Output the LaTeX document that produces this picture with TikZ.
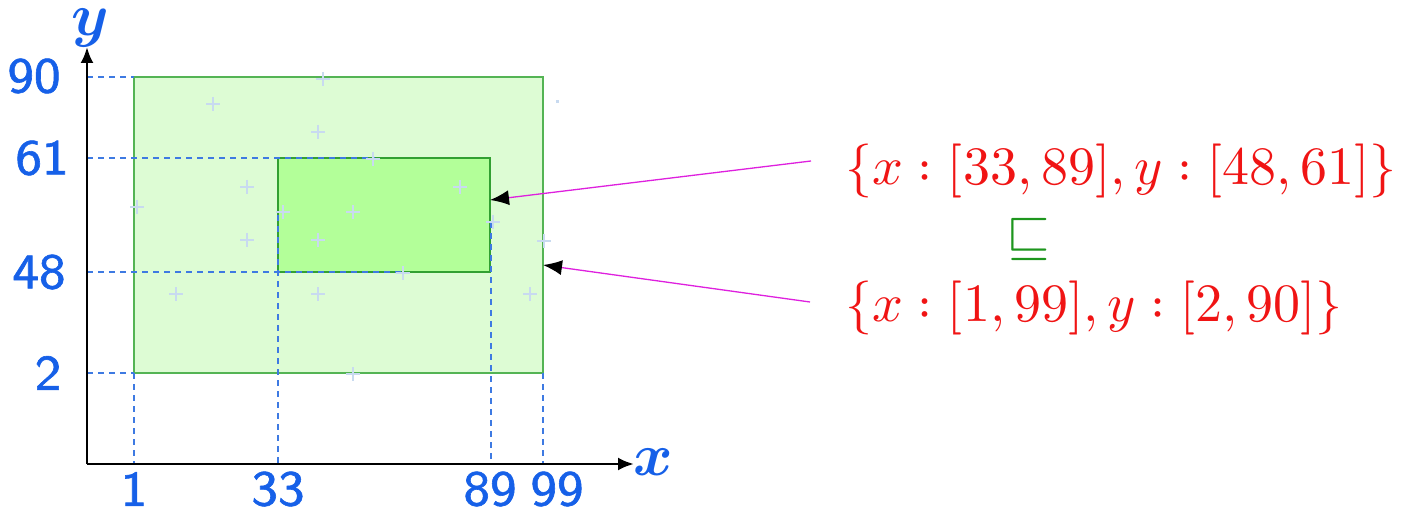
\documentclass[tikz,border=0pt]{standalone}
\usepackage{fontspec}
\usepackage{unicode-math}
\setmathfont{Latin Modern Math}
\newfontfamily\ticksans{lmsans8-regular.otf}[FakeBold=1.2]
\usetikzlibrary{arrows.meta}

\definecolor{tickblue}{RGB}{22,96,232}
\definecolor{guideblue}{RGB}{62,122,226}
\definecolor{outerfill}{RGB}{221,252,212}
\definecolor{outerline}{RGB}{84,180,84}
\definecolor{innerfill}{RGB}{179,255,153}
\definecolor{innerline}{RGB}{50,160,50}
\definecolor{crossblue}{RGB}{200,218,240}
\definecolor{ptrmagenta}{RGB}{222,32,222}
\definecolor{formred}{RGB}{240,20,20}
\definecolor{relgreen}{RGB}{30,150,30}

\begin{document}
\begin{tikzpicture}[x=1pt,y=-1pt,
  every node/.style={inner sep=0pt,outer sep=0pt},
  ticklbl/.style={font=\ticksans\fontsize{50}{50}\selectfont,text=tickblue},
  axislbl/.style={font=\fontsize{60}{60}\selectfont,text=tickblue},
  formula/.style={font=\fontsize{54}{54}\selectfont,text=formred},
  guide/.style={draw=guideblue,line width=1.3pt,dash pattern=on 6pt off 5pt},
  axisline/.style={line width=2.8pt,-{Latex[length=16pt,width=13pt]}},
  ptr/.style={draw=ptrmagenta,line width=1.3pt,-{Latex[length=19pt,width=15pt,color=black]}},
  crossmk/.style={draw=crossblue,line width=1.5pt},
  outerbox/.style={draw=outerline,fill=outerfill,line width=2pt,anchor=north west},
  innerbox/.style={draw=innerline,fill=innerfill,line width=2pt,anchor=north west}]
\useasboundingbox (0,0) rectangle (1414,513);

% the two intervals as boxes
\node[outerbox,minimum width=409pt,minimum height=296pt] (outer) at (134,77) {};
\node[innerbox,minimum width=212pt,minimum height=114pt] (inner) at (278,158) {};

% dashed projections onto the axes
\coordinate (O) at (87,464);
\coordinate (xend) at (634,464);
\coordinate (yend) at (87,47);
\draw[guide] (87,77) -- (outer.north west);
\draw[guide] (87,158) -- (375,158);
\draw[guide] (87,272) -- (405,272);
\draw[guide] (87,373) -- (outer.south west);
\draw[guide] (outer.south west) -- (134,464);
\draw[guide] (278,215) -- (278,464);
\draw[guide] (491,222) -- (491,464);
\draw[guide] (outer.south east) -- (543,464);

% sample points
\foreach \px/\py in {323/79,213/104,318/132,373/159,247/187,137/207,283/212,353/212,
  460/187,247/240,318/240,493/222,544/241,403/273,176/294,318/294,530/294,353/374}
  \draw[crossmk] (\px-7,\py) -- (\px+7,\py) (\px,\py-7) -- (\px,\py+7);
\fill[crossblue] (555.5,100.5) rectangle (558.5,103.5);

% axes
\draw[axisline] (O) -- (xend);
\draw[axisline] (O) -- (yend);
\node[axislbl] (xl) at (653,462) {$\symbfit{x}$};
\node[axislbl] (yl) at (90,28) {$\symbfit{y}$};

% tick labels
\node[ticklbl] (t90) at (34,76) {90};
\node[ticklbl] (t61) at (42,158) {61};
\node[ticklbl] (t48) at (39,272) {48};
\node[ticklbl] (t2) at (48,373) {2};
\node[ticklbl] (t1) at (134,489) {1};
\node[ticklbl] (t33) at (278,489) {33};
\node[ticklbl] (t89) at (490,489) {89};
\node[ticklbl] (t99) at (557,489) {99};

% interval descriptions
\node[formula,anchor=base west] (small) at (845,185) {$\{x:[33,89],y:[48,61]\}$};
\node[font=\fontsize{56}{56}\selectfont,text=relgreen] (rel) at (1029,240) {$\sqsubseteq$};
\node[formula,anchor=base west] (big) at (845,321) {$\{x:[1,99],y:[2,90]\}$};

% pointers
\coordinate (pa) at (811,161);
\coordinate (pb) at (810,302);
\draw[ptr] (pa) -- ([yshift=15pt]inner.east);
\draw[ptr] (pb) -- ([yshift=-40pt]outer.east);
\end{tikzpicture}
\end{document}
